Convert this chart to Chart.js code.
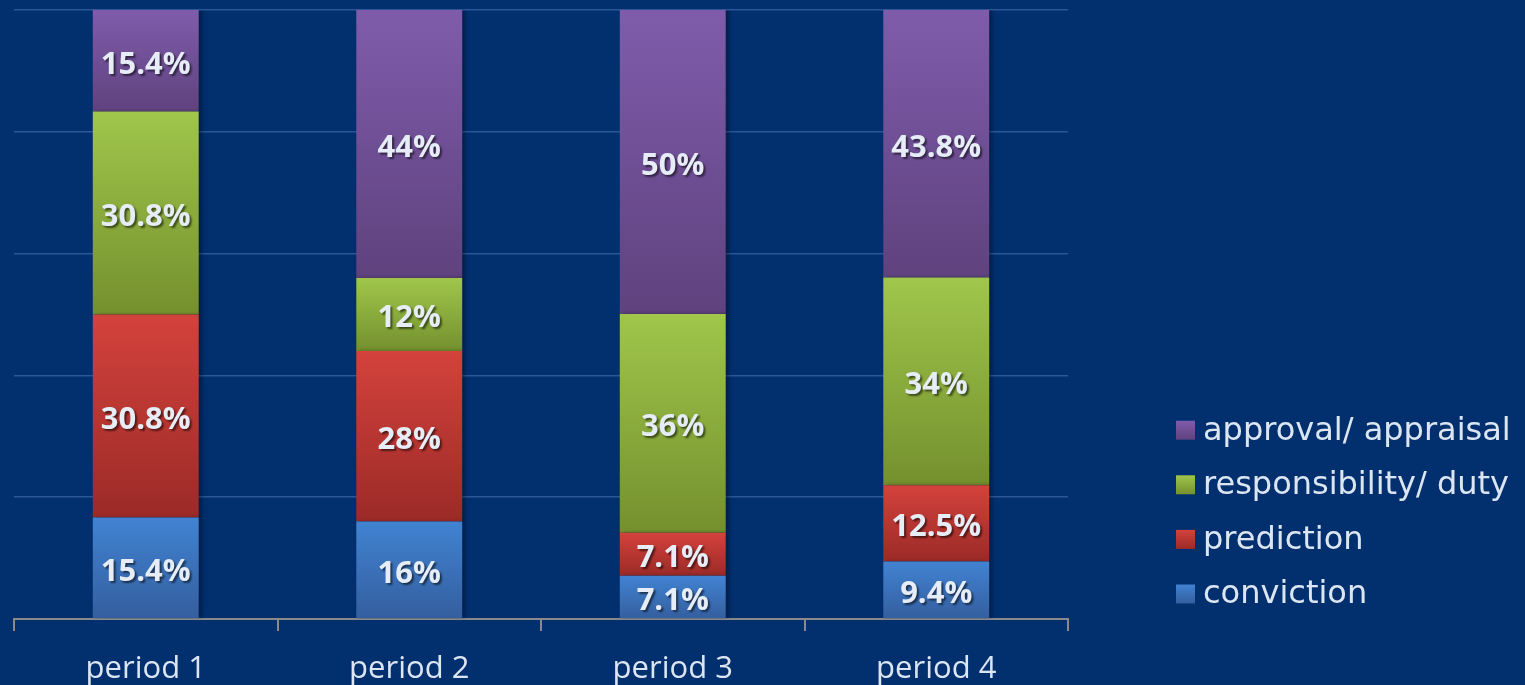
<!DOCTYPE html>
<html>
<head>
<meta charset="utf-8">
<script src="https://cdn.jsdelivr.net/npm/chart.js@4"></script>
<style>
  html, body { margin: 0; padding: 0; background: #022f6e; }
  #wrap { width: 1525px; height: 685px; }
</style>
</head>
<body>
<div id="wrap"><canvas id="chart" width="1525" height="685"></canvas></div>
<script>
// data (shown labels, in %)
const periods = ['period 1', 'period 2', 'period 3', 'period 4'];
const conviction = [15.4, 16, 7.1, 9.4];
const prediction = [30.8, 28, 7.1, 12.5];
const responsibility = [30.8, 12, 36, 34];
const approval = [15.4, 44, 50, 43.8];
const seriesNames = ['conviction', 'prediction', 'responsibility/ duty', 'approval/ appraisal'];
const yTicks = [0, 20, 40, 60, 80, 100];

// gradient colours top -> bottom
const colors = [
  ['#4183d2', '#345e9e'],
  ['#d4423c', '#9b2a27'],
  ['#a0c64b', '#74902e'],
  ['#7f5cab', '#5f427e']
];

const raw = [conviction, prediction, responsibility, approval];
const totals = periods.map((p, i) => raw.reduce((s, arr) => s + arr[i], 0));
// 100% stacked: each column scaled to its own total
const shares = raw.map(arr => arr.map((v, i) => v / totals[i] * 100));

function segGradient(context, k) {
  const chart = context.chart;
  const y = chart.scales.y;
  const i = context.dataIndex;
  if (!y || i === undefined) return colors[k][0];
  let lo = 0;
  for (let j = 0; j < k; j++) lo += shares[j][i];
  const hi = lo + shares[k][i];
  const top = y.getPixelForValue(hi), bot = y.getPixelForValue(lo);
  if (!isFinite(top) || !isFinite(bot) || top === bot) return colors[k][0];
  const g = chart.ctx.createLinearGradient(0, top, 0, bot);
  g.addColorStop(0, colors[k][0]);
  g.addColorStop(1, colors[k][1]);
  return g;
}

// 🟢 labels inside each segment
const segLabels = {
  id: 'segLabels',
  afterDatasetsDraw(chart) {
    const ctx = chart.ctx;
    ctx.save();
    ctx.font = 'bold 31px "Open Sans", "Noto Sans", sans-serif';
    ctx.textAlign = 'center';
    ctx.textBaseline = 'middle';
    ctx.shadowColor = 'rgba(0,0,0,0.55)';
    ctx.shadowOffsetX = 2;
    ctx.shadowOffsetY = 2;
    ctx.shadowBlur = 2;
    ctx.fillStyle = '#e6edf7';
    chart.data.datasets.forEach((ds, k) => {
      const meta = chart.getDatasetMeta(k);
      meta.data.forEach((bar, i) => {
        const cy = (bar.y + bar.base) / 2;
        ctx.fillText(raw[k][i] + '%', bar.x, cy + 4);
      });
    });
    ctx.restore();
  }
};

// 🟢 bar drop shadow
const barShadow = {
  id: 'barShadow',
  beforeDatasetsDraw(chart) {
    const ctx = chart.ctx;
    ctx.save();
    ctx.shadowColor = 'rgba(0,0,0,0.35)';
    ctx.shadowOffsetX = 3;
    ctx.shadowOffsetY = 0;
    ctx.shadowBlur = 4;
  },
  afterDatasetsDraw(chart) {
    chart.ctx.restore();
  }
};

// 🟢 legend on the right, reversed order
const sideLegend = {
  id: 'sideLegend',
  afterDraw(chart) {
    const ctx = chart.ctx;
    const area = chart.chartArea;
    const x0 = area.right + 108;
    const rowGap = 54.6;
    const lastY = 594;
    ctx.save();
    ctx.font = '32px "DejaVu Sans", Verdana, sans-serif';
    ctx.textBaseline = 'middle';
    ctx.textAlign = 'left';
    for (let k = 0; k < seriesNames.length; k++) {
      const cy = lastY - k * rowGap;
      const g = ctx.createLinearGradient(0, cy - 9.5, 0, cy + 9.5);
      g.addColorStop(0, colors[k][0]);
      g.addColorStop(1, colors[k][1]);
      ctx.fillStyle = g;
      ctx.fillRect(x0, cy - 9.5, 19, 19);
      ctx.fillStyle = '#dce6f2';
      ctx.fillText(seriesNames[k], x0 + 27, cy + 1);
    }
    ctx.restore();
  }
};

new Chart(document.getElementById('chart'), {
  type: 'bar',
  data: {
    labels: periods,
    datasets: shares.map((arr, k) => ({
      label: seriesNames[k],
      data: arr,
      backgroundColor: (c) => segGradient(c, k),
      borderWidth: 0,
      barPercentage: 0.402,
      categoryPercentage: 1
    }))
  },
  options: {
    responsive: false,
    animation: false,
    layout: { padding: { left: 14, right: 457, top: 10, bottom: 0 } },
    plugins: {
      legend: { display: false },
      tooltip: { enabled: false }
    },
    scales: {
      x: {
        stacked: true,
        afterFit: (s) => { s.height = 66; },
        grid: { drawOnChartArea: false, drawTicks: true, tickLength: 12, color: '#8a8a8a', lineWidth: 2, offset: true },
        border: { color: '#8a8a8a', width: 2 },
        ticks: {
          color: '#dce6f2',
          font: { family: '"Open Sans", "Noto Sans", sans-serif', size: 31 },
          padding: 20
        }
      },
      y: {
        stacked: true,
        min: yTicks[0],
        max: yTicks[yTicks.length - 1],
        afterBuildTicks: (s) => { s.ticks = yTicks.map(v => ({ value: v })); },
        grid: { color: '#2d5696', lineWidth: 1.5, drawTicks: false },
        border: { display: false },
        ticks: { display: false }
      }
    }
  },
  plugins: [barShadow, segLabels, sideLegend]
});
</script>
</body>
</html>
